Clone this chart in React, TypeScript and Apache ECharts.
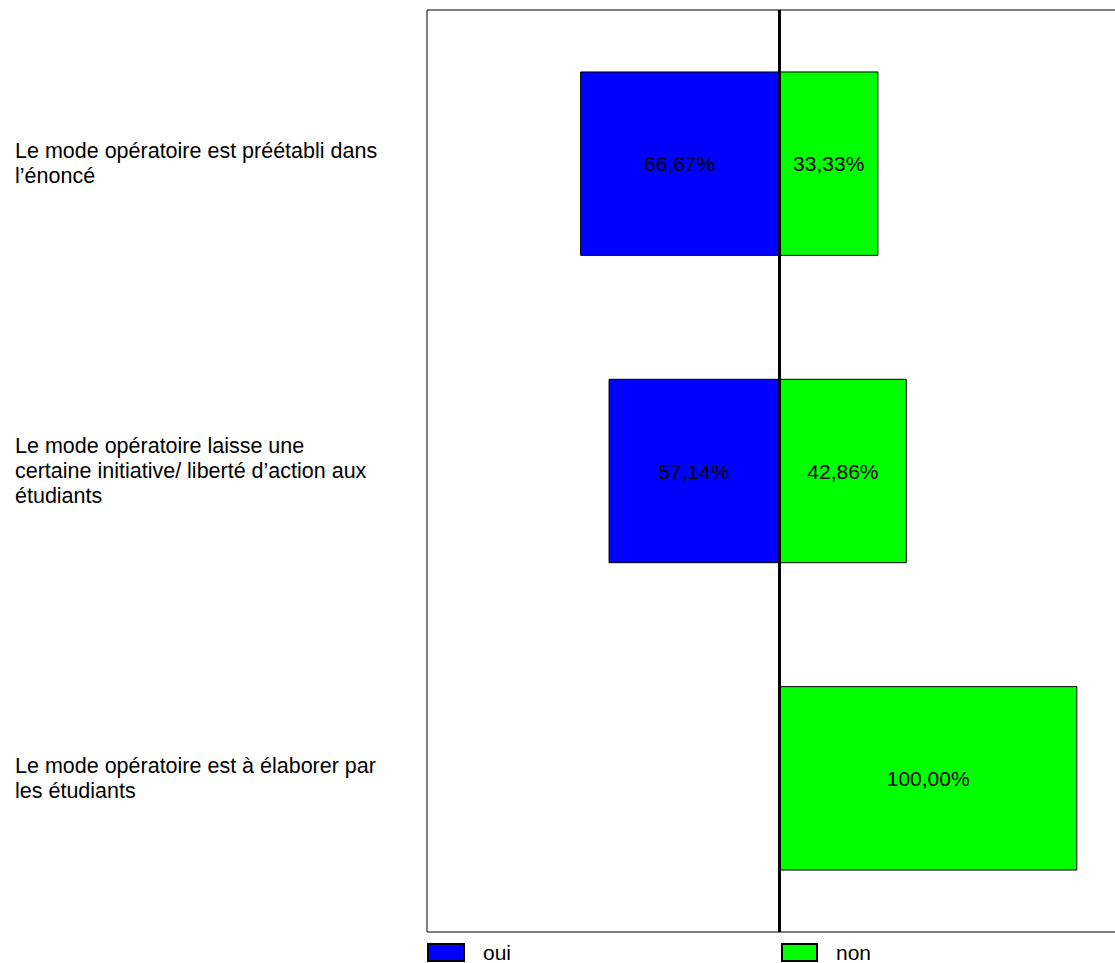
import React, { useEffect, useRef } from "react";
import * as echarts from "echarts";

const categories = [
  "Le mode opératoire est préétabli dans\nl’énoncé",
  "Le mode opératoire laisse une\ncertaine initiative/ liberté d’action aux\nétudiants",
  "Le mode opératoire est à élaborer par\nles étudiants",
];
const ouiValues = [66.67, 57.14, 0];
const nonValues = [33.33, 42.86, 100.0];

const FONT = "Liberation Sans, Arial, sans-serif";

const fmt = (v: number) => (v === 0 ? "" : Math.abs(v).toFixed(2).replace(".", ",") + "%");

export default function App() {
  const ref = useRef<HTMLDivElement>(null);
  useEffect(() => {
    if (!ref.current) return;
    const chart = echarts.init(ref.current, undefined, { renderer: "svg" });
    const legendText = { fontSize: 21, color: "#000", fontFamily: FONT, padding: [14, 0, 0, 14] };
    chart.setOption({
      animation: false,
      textStyle: { fontFamily: FONT },
      grid: {
        left: 427,
        top: 10,
        bottom: 31,
        right: 29,
        show: true,
        borderColor: "#000",
        borderWidth: 1,
        backgroundColor: "#fff",
      },
      xAxis: {
        type: "value",
        min: -118,
        max: 118,
        show: false,
      },
      yAxis: {
        type: "category",
        data: categories,
        inverse: true,
        axisLine: { show: false },
        axisTick: { show: false },
        splitLine: { show: false },
        axisLabel: {
          align: "left",
          margin: 412,
          fontSize: 21.5,
          lineHeight: 25,
          color: "#000",
          fontFamily: FONT,
        },
      },
      legend: [
        {
          data: ["oui"],
          left: 427,
          top: 942,
          padding: 0,
          icon: "rect",
          itemWidth: 36,
          itemHeight: 17,
          textStyle: legendText,
        },
        {
          data: ["non"],
          left: 781,
          top: 942,
          padding: 0,
          icon: "rect",
          itemWidth: 35,
          itemHeight: 17,
          textStyle: legendText,
        },
      ],
      series: [
        {
          name: "oui",
          type: "bar",
          stack: "total",
          barWidth: "60%",
          data: ouiValues.map((v) => -v),
          itemStyle: { color: "#0000ff", borderColor: "#000", borderWidth: 1 },
          label: {
            show: true,
            position: "inside",
            color: "#000",
            fontSize: 21,
            fontFamily: FONT,
            formatter: (p: any) => fmt(p.value),
          },
        },
        {
          name: "non",
          type: "bar",
          stack: "total",
          barWidth: "60%",
          data: nonValues,
          itemStyle: { color: "#00ff00", borderColor: "#000", borderWidth: 1 },
          label: {
            show: true,
            position: "inside",
            color: "#000",
            fontSize: 21,
            fontFamily: FONT,
            formatter: (p: any) => fmt(p.value),
          },
          markLine: {
            silent: true,
            symbol: "none",
            label: { show: false },
            lineStyle: { color: "#000", width: 3, type: "solid" },
            data: [{ xAxis: 0 }],
          },
        },
      ],
    });
    return () => chart.dispose();
  }, []);
  return (
    <div
      ref={ref}
      style={{ position: "fixed", left: 0, top: 0, width: 1160, height: 963, background: "#fff" }}
    />
  );
}
